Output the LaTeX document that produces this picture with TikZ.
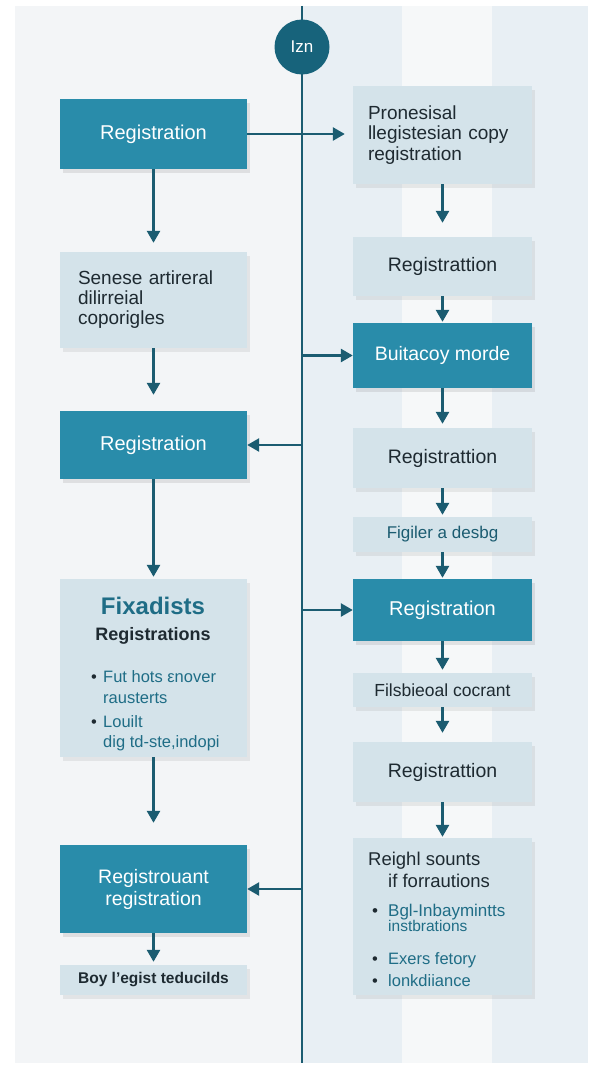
\documentclass[tikz,border=0pt]{standalone}
\usepackage{fontspec}
\setmainfont{Liberation Sans}
\usepackage{xcolor}
\usetikzlibrary{arrows.meta,shadows}

\definecolor{tealbox}{HTML}{298CAA}
\definecolor{palebox}{HTML}{D4E3EA}
\definecolor{inkline}{HTML}{1B5C71}
\definecolor{hubfill}{HTML}{17637B}
\definecolor{leftbg}{HTML}{F3F5F7}
\definecolor{rightbg}{HTML}{E8EFF4}
\definecolor{stripebg}{HTML}{F6F8F9}
\definecolor{darktext}{HTML}{1E2A31}
\definecolor{tealtext}{HTML}{1F6D86}

\newcommand\fsz[2]{\fontsize{#1}{#2}\selectfont}
\newcommand\bulmark[1]{\makebox[#1][l]{\textcolor{darktext}{\textbullet}}}

\begin{document}
\begin{tikzpicture}[x=1pt,y=-1pt,
    regbox/.style={shape=rectangle, inner sep=0pt, fill=tealbox, text=white, align=center,
      font=\fsz{20}{22}, drop shadow={opacity=.18,shadow xshift=3pt,shadow yshift=-4pt}},
    notebox/.style={shape=rectangle, inner sep=0pt, fill=palebox, text=darktext, align=center,
      font=\fsz{19.5}{22}, drop shadow={opacity=.14,shadow xshift=3pt,shadow yshift=-4pt}},
    lcol/.style={minimum width=187pt},
    rcol/.style={minimum width=179pt},
    itemtext/.style={anchor=base west, inner sep=0pt, text=tealtext, font=\fsz{16.5}{18}},
    hub/.style={shape=circle, fill=hubfill, text=white, minimum size=55pt, inner sep=0pt, font=\fsz{17}{18}},
    spine/.style={draw=inkline, line width=2.6pt},
    flow/.style={draw=inkline, line width=2.6pt, -{Triangle[width=13pt,length=12pt]}}]
    \useasboundingbox (0,0) rectangle (598,1070);
    % backdrop
    \fill[white] (0,0) rectangle (598,1070);
    \fill[leftbg] (15,6) rectangle (302,1063);
    \fill[rightbg] (302,6) rectangle (588,1063);
    \fill[stripebg] (402,6) rectangle (492,1063);

    \coordinate (top) at (302,6);
    \coordinate (bot) at (302,1063);
    \draw[spine] (top) -- (bot);
    \node[hub] (hub) at (302,47) {Izn};

    % left column
    \node[regbox, lcol, minimum height=70pt] (l1) at (153.5,134) {Registration};
    \node[notebox, lcol, minimum height=96pt, text width=151pt, inner xsep=18pt, align=left, font=\fsz{19}{20}] (l2) at (153.5,300)
      {Senese artireral\\dilirreial\\coporigles};
    \node[regbox, lcol, minimum height=68pt] (l3) at (153.5,445) {Registration};
    \node[notebox, lcol, minimum height=178pt] (l4) at (153.5,668) {};
    \node[anchor=base, inner sep=0pt, text=tealtext, font=\bfseries\fsz{24}{26}] (l4head) at (153,614) {Fixadists};
    \node[anchor=base, inner sep=0pt, text=darktext, font=\bfseries\fsz{18}{20}] (l4sub) at (153,640) {Registrations};
    \node[itemtext] (l4i1) at (91,682) {\bulmark{12pt}Fut hots εnover};
    \node[itemtext] (l4i1b) at (103,703) {rausterts};
    \node[itemtext] (l4i2) at (91,727) {\bulmark{12pt}Louilt};
    \node[itemtext] (l4i2b) at (103,747) {dig td-ste,indopi};
    \node[regbox, lcol, minimum height=88pt, font=\fsz{19.5}{22}] (l5) at (153.5,889) {Registrouant\\registration};
    \node[notebox, lcol, minimum height=30pt, font=\bfseries\fsz{15.5}{17}] (l6) at (153.5,980) {Boy l'egist teducilds};

    % right column
    \node[notebox, rcol, minimum height=98pt, text width=149pt, inner xsep=15pt, align=left, font=\fsz{19}{20.5}] (r1) at (442.5,135)
      {Pronesisal\\llegistesian copy\\registration};
    \node[notebox, rcol, minimum height=59pt] (r2) at (442.5,266.5) {Registrattion};
    \node[regbox, rcol, minimum height=65pt, font=\fsz{19.5}{22}] (r3) at (442.5,355.5) {Buitacoy morde};
    \node[notebox, rcol, minimum height=60pt] (r4) at (442.5,458) {Registrattion};
    \node[notebox, rcol, minimum height=35pt, text=inkline, font=\fsz{17}{19}] (r5) at (442.5,534.5) {Figiler a desbg};
    \node[regbox, rcol, minimum height=62pt] (r6) at (442.5,610) {Registration};
    \node[notebox, rcol, minimum height=34pt, font=\fsz{17.5}{19}] (r7) at (442.5,690) {Filsbieoal cocrant};
    \node[notebox, rcol, minimum height=60pt] (r8) at (442.5,772) {Registrattion};
    \node[notebox, rcol, minimum height=157pt] (r9) at (442.5,916.5) {};
    \node[anchor=base west, inner sep=0pt, text=darktext, font=\fsz{18.5}{20}] (r9a) at (368,865) {Reighl sounts};
    \node[anchor=base west, inner sep=0pt, text=darktext, font=\fsz{18.5}{20}] (r9b) at (388,887) {if forrautions};
    \node[itemtext, font=\fsz{17}{18}] (r9c) at (372,916) {\bulmark{16pt}Bgl-Inbaymintts};
    \node[itemtext, font=\fsz{15.5}{17}] (r9d) at (388,931) {instbrations};
    \node[itemtext] (r9e) at (372,964) {\bulmark{16pt}Exers fetory};
    \node[itemtext] (r9f) at (372,986) {\bulmark{16pt}lonkdiiance};

    % connectors
    \foreach \a/\b/\g in {l1/l2/9, l2/l3/16, l3/l4/2, l4/l5/22, l5/l6/3,
                          r1/r2/14, r2/r3/1, r3/r4/4, r4/r5/2, r5/r6/1, r6/r7/3, r7/r8/9, r8/r9/1}
      \draw[flow, shorten >=\g pt] (\a) -- (\b);
    \draw[flow, shorten >=8pt] (l1.east) -- (l1.east -| r1.west);
    \draw[flow] (top |- r3.west) -- (r3.west);
    \draw[flow] (top |- r6.west) -- (r6.west);
    \draw[flow] (top |- l3.east) -- (l3.east);
    \draw[flow] (top |- l5.east) -- (l5.east);
  \end{tikzpicture}
\end{document}
